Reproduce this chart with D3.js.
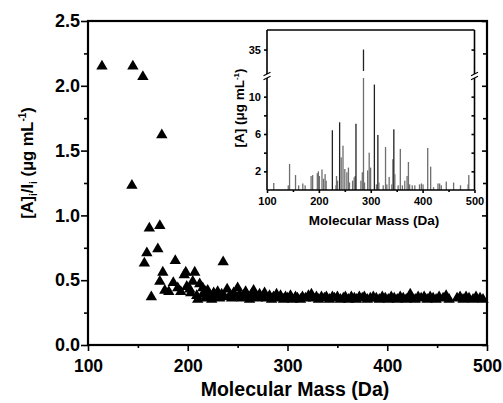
<!DOCTYPE html>
<html><head><meta charset="utf-8">
<script src="https://cdn.jsdelivr.net/npm/d3@7"></script>
<style>
body{margin:0;background:#fff}
svg{display:block}
text{font-family:"Liberation Sans",Arial,sans-serif;font-weight:bold;fill:#000}
</style>
</head><body>
<svg id="c" width="503" height="403"></svg>
<script>
// ---- main scatter data: molecular mass (Da) vs [A]i/Ii ----
const scatterMass = [114,145,155,174,144,161.5,172,159,170,156.5,163.5,175,172,177,187.5,185.5,196.5,198,207,199,212,209,235.5,181,190,193,202,205,215,218,203,210,
  215,218,220,222,224,226,228,230,232,234,237,239.5,242,244,246,248,250,252,254,256,258,260,262,264,266,268,270,272,275,277,279,282,284,286,289,291,293,296,298,300,
  303,305,308,310,313,315,318,321,324,326,329,331,334,337,339,342,345,347,350,353,356,358,361,364,367,369,372,375,377,380,383,386,389,392,395,398,401,404,407,410,
  413,416,419,423,425,428,431,434,437,440,443,446,449,452,456,459,462,470,473,476,479,482,486,489,493,496];
const scatterRatio = [2.16,2.16,2.08,1.63,1.24,0.91,0.93,0.72,0.75,0.64,0.38,0.57,0.50,0.43,0.66,0.49,0.55,0.57,0.57,0.46,0.48,0.39,0.65,0.42,0.45,0.42,0.44,0.50,0.45,0.42,0.41,0.36,
  0.40,0.37,0.43,0.39,0.36,0.41,0.38,0.42,0.37,0.40,0.38,0.44,0.39,0.37,0.41,0.38,0.45,0.40,0.37,0.39,0.42,0.38,0.36,0.40,0.43,0.38,0.37,0.40,0.38,0.41,0.37,0.39,0.36,0.38,0.40,0.37,0.39,0.36,0.38,0.37,
  0.39,0.36,0.38,0.37,0.36,0.38,0.37,0.39,0.40,0.37,0.38,0.36,0.38,0.37,0.38,0.36,0.38,0.37,0.38,0.36,0.37,0.38,0.36,0.38,0.37,0.36,0.38,0.37,0.38,0.36,0.37,0.38,0.37,0.36,0.38,0.37,0.36,0.38,0.37,0.36,
  0.38,0.37,0.36,0.40,0.37,0.36,0.38,0.37,0.38,0.36,0.38,0.37,0.36,0.38,0.37,0.39,0.36,0.37,0.38,0.36,0.38,0.37,0.36,0.38,0.37,0.36];

// ---- inset data: molecular mass (Da) vs [A] ----
const insetMass = [113,141,143.5,155,161,169,173.5,185,188,197,199,201,206,209,212,214,226,233,234,236,240,243,246.5,250,254,257,259,265,268,270,271.5,281,283.7,286,288,294,297,299.7,307,311,313.7,315.7,324,328.5,331,335.5,340.6,342.6,344.5,346.4,352.8,357,361,365.6,370,372.6,375,380,385,394,397.6,400.8,409.8,415.5,421,429.6,432.8,436,445.6,459.7,473,487.7,489];
const insetConc = [0.75,0.5,2.8,1.6,0.5,0.7,0.5,1.5,1.6,1.8,2.0,1.5,2.2,1.2,1.7,1.0,6.4,0.5,1.5,1.0,7.25,3.5,4.75,2.25,1.9,2.4,0.8,1.0,1.35,1.5,7.1,1.0,1.9,35,0.8,2.1,4.0,2.4,11.3,0.6,5.9,0.8,0.5,4.6,0.6,1.4,0.6,3.3,6.5,1.7,0.5,4.4,0.5,1.0,1.5,3.0,0.6,0.5,0.5,0.6,0.7,0.6,4.5,2.5,0.3,0.7,0.7,0.5,0.9,0.8,0.5,0.6,1.6];

// ---- tick values ----
const mainXTicks = [100,200,300,400,500];
const mainXMinor = [150,250,350,450];
const mainYTicks = [0,0.5,1.0,1.5,2.0,2.5];
const mainYMinor = [0.25,0.75,1.25,1.75,2.25];
const insetXTicks = [100,200,300,400,500];
const insetXMinor = [150,250,350,450];
const insetYLowTicks = [2,6,10];
const insetYLowMinor = [4,8];
const insetYHighTicks = [35];

const svg = d3.select('#c');
const M = {l:88, r:487, t:21, b:345};
const x = d3.scaleLinear().domain([100,500]).range([M.l, M.r]);
const y = d3.scaleLinear().domain([0,2.5]).range([M.b, M.t]);

function styleAxis(g, fs){
  g.select('.domain').remove();
  g.selectAll('.tick line').attr('stroke','#000').attr('stroke-width',1.6);
  g.selectAll('.tick text').attr('font-size',fs).attr('fill','#000');
}

// main axes
svg.append('g').attr('transform',`translate(${M.l},0)`)
  .call(d3.axisLeft(y).tickValues(mainYTicks).tickFormat(d3.format('.1f')).tickSize(7).tickPadding(1))
  .call(g=>styleAxis(g,18));
svg.append('g').attr('transform',`translate(${M.l},0)`)
  .call(d3.axisLeft(y).tickValues(mainYMinor).tickFormat('').tickSize(4))
  .call(g=>styleAxis(g,18));
svg.append('g').attr('transform',`translate(${M.r},0)`)
  .call(d3.axisLeft(y).tickValues(mainYTicks).tickFormat('').tickSize(5))
  .call(g=>styleAxis(g,18));
svg.append('g').attr('transform',`translate(${M.r},0)`)
  .call(d3.axisLeft(y).tickValues(mainYMinor).tickFormat('').tickSize(4))
  .call(g=>styleAxis(g,18));
svg.append('g').attr('transform',`translate(0,${M.b})`)
  .call(d3.axisBottom(x).tickValues(mainXTicks).tickFormat(d3.format('d')).tickSize(6).tickPadding(9))
  .call(g=>styleAxis(g,17.5));
svg.append('g').attr('transform',`translate(0,${M.b})`)
  .call(d3.axisBottom(x).tickValues(mainXMinor).tickFormat('').tickSize(3))
  .call(g=>styleAxis(g,17.5));

// points
const tri = (cx,cy)=>`M${cx},${cy-5.3}L${cx+5.7},${cy+4.5}L${cx-5.7},${cy+4.5}Z`;
svg.append('g').selectAll('path').data(scatterMass).join('path')
  .attr('d',(d,i)=>tri(x(d), y(scatterRatio[i])))
  .attr('fill','#000');

// main frame
svg.append('rect').attr('x',M.l).attr('y',M.t).attr('width',M.r-M.l).attr('height',M.b-M.t)
  .attr('fill','none').attr('stroke','#000').attr('stroke-width',2.2);

// main titles
svg.append('text').attr('x',295).attr('y',396).attr('text-anchor','middle').attr('font-size',19.5)
  .text('Molecular Mass (Da)');
const yt = svg.append('text').attr('transform',`translate(33,163) rotate(-90)`).attr('text-anchor','middle').attr('font-size',16.5);
yt.append('tspan').text('[A]');
yt.append('tspan').attr('font-size',10).attr('dy',4).text('i');
yt.append('tspan').attr('dy',-4).text('/I');
yt.append('tspan').attr('font-size',10).attr('dy',4).text('i');
yt.append('tspan').attr('dy',-4).text(' (\u03bcg mL');
yt.append('tspan').attr('font-size',10).attr('dy',-7).text('-1');
yt.append('tspan').attr('dy',7).text(')');

// ---- inset ----
const I = {l:267, r:474.5, t:30, b:190};
const brkLow = 78, brkHigh = 74;
const xi = d3.scaleLinear().domain([100,500]).range([I.l, I.r]);
const yLow = d3.scaleLinear().domain([0,12]).range([I.b, brkLow]);
const yHigh = d3.scaleLinear().domain([32.5,37]).range([brkHigh, I.t]);

svg.append('rect').attr('x',I.l).attr('y',I.t).attr('width',I.r-I.l).attr('height',I.b-I.t).attr('fill','#fff');

const bars = svg.append('g');
insetMass.forEach((m,i)=>{
  const v = insetConc[i];
  const col = (v>5.8 && i%2===0) ? '#222' : '#6f6f6f';
  const top = yLow(Math.min(v,12));
  bars.append('rect').attr('x',xi(m)-0.65).attr('width',1.3)
    .attr('y',top).attr('height',yLow(0)-top).attr('fill',col);
  if (v>32.5){
    bars.append('rect').attr('x',xi(m)-0.65).attr('width',1.3)
      .attr('y',yHigh(v)).attr('height',yHigh(32.5)-yHigh(v)-3).attr('fill','#222');
  }
});

// inset axes
svg.append('g').attr('transform',`translate(${I.l},0)`)
  .call(d3.axisLeft(yLow).tickValues(insetYLowTicks).tickFormat(d3.format('d')).tickSize(3).tickPadding(3))
  .call(g=>styleAxis(g,11));
svg.append('g').attr('transform',`translate(${I.l},0)`)
  .call(d3.axisLeft(yLow).tickValues(insetYLowMinor).tickFormat('').tickSize(3))
  .call(g=>styleAxis(g,11));
svg.append('g').attr('transform',`translate(${I.l},0)`)
  .call(d3.axisLeft(yHigh).tickValues(insetYHighTicks).tickFormat(d3.format('d')).tickSize(3).tickPadding(3))
  .call(g=>styleAxis(g,11));
svg.append('g').attr('transform',`translate(${I.r},0)`)
  .call(d3.axisLeft(yLow).tickValues(insetYLowTicks.concat(insetYLowMinor)).tickFormat('').tickSize(3))
  .call(g=>styleAxis(g,11));
svg.append('g').attr('transform',`translate(${I.r},0)`)
  .call(d3.axisLeft(yHigh).tickValues(insetYHighTicks).tickFormat('').tickSize(3))
  .call(g=>styleAxis(g,11));
svg.append('g').attr('transform',`translate(0,${I.b})`)
  .call(d3.axisBottom(xi).tickValues(insetXTicks).tickFormat(d3.format('d')).tickSize(3).tickPadding(4))
  .call(g=>styleAxis(g,11));
svg.append('g').attr('transform',`translate(0,${I.b})`)
  .call(d3.axisBottom(xi).tickValues(insetXMinor).tickFormat('').tickSize(2))
  .call(g=>styleAxis(g,11));

// inset frame with break
const fr = svg.append('g').attr('stroke','#000').attr('stroke-width',1.6).attr('fill','none');
fr.append('line').attr('x1',I.l).attr('x2',I.r).attr('y1',I.t).attr('y2',I.t);
fr.append('line').attr('x1',I.l).attr('x2',I.r).attr('y1',I.b).attr('y2',I.b);
[I.l, I.r].forEach(sx=>{
  fr.append('line').attr('x1',sx).attr('x2',sx).attr('y1',I.t).attr('y2',brkHigh);
  fr.append('line').attr('x1',sx).attr('x2',sx).attr('y1',brkLow).attr('y2',I.b);
  fr.append('line').attr('x1',sx-3.5).attr('x2',sx+3.5).attr('y1',brkHigh+1.8).attr('y2',brkHigh-1.8).attr('stroke-width',1.2);
  fr.append('line').attr('x1',sx-3.5).attr('x2',sx+3.5).attr('y1',brkLow+1.8).attr('y2',brkLow-1.8).attr('stroke-width',1.2);
});

// inset titles
svg.append('text').attr('x',374).attr('y',225).attr('text-anchor','middle').attr('font-size',13.5)
  .text('Molecular Mass (Da)');
const it = svg.append('text').attr('transform',`translate(244,108) rotate(-90)`).attr('text-anchor','middle').attr('font-size',13.5);
it.append('tspan').text('[A] (\u03bcg mL');
it.append('tspan').attr('font-size',8).attr('dy',-5).text('-1');
it.append('tspan').attr('dy',5).text(')');
</script>
</body></html>
